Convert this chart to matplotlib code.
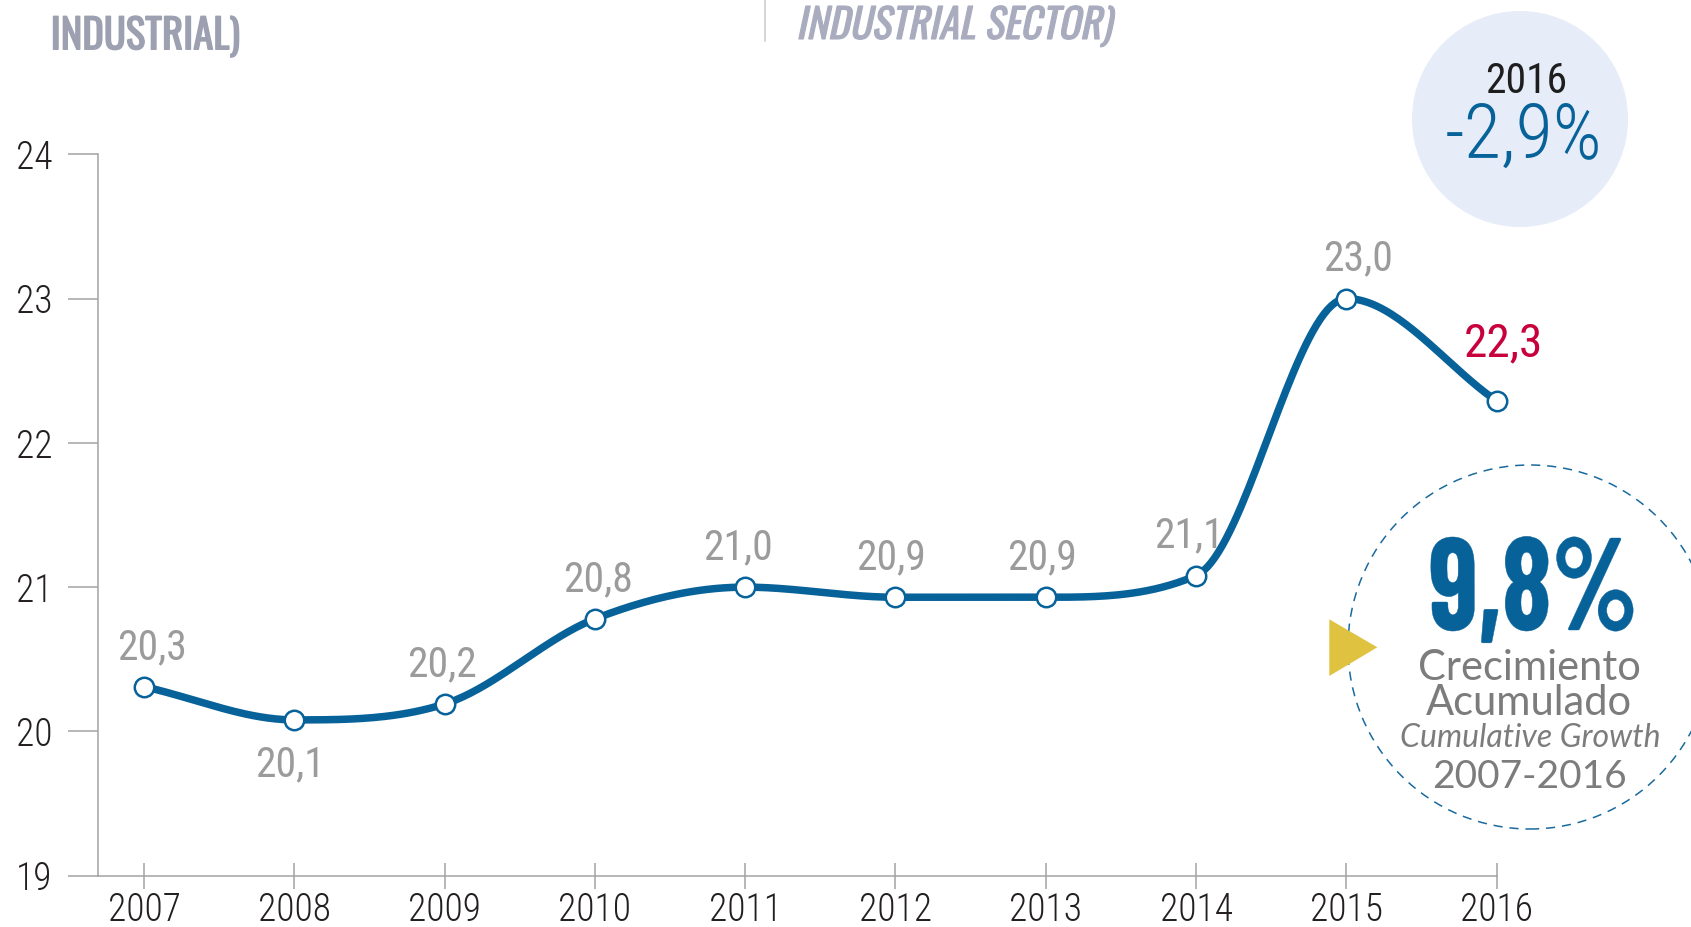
import numpy as np
import matplotlib
matplotlib.use("Agg")
import matplotlib.pyplot as plt
import matplotlib.patheffects as pe
from matplotlib.font_manager import FontProperties
from matplotlib.lines import Line2D
from matplotlib.patches import Circle, Polygon, PathPatch
from matplotlib.textpath import TextPath
from matplotlib.transforms import Affine2D, IdentityTransform

# data
years = [2007, 2008, 2009, 2010, 2011, 2012, 2013, 2014, 2015, 2016]
values = [20.31, 20.08, 20.19, 20.78, 21.00, 20.93, 20.93, 21.08, 23.00, 22.29]
value_labels = ["20,3", "20,1", "20,2", "20,8", "21,0", "20,9", "20,9", "21,1", "23,0", "22,3"]
y_ticks = [19, 20, 21, 22, 23, 24]

title_left = "INDUSTRIAL)"
title_right = "INDUSTRIAL SECTOR)"
badge_year = "2016"
badge_change = "-2,9%"
cumulative_value = "9,8%"
cumulative_lines = ["Crecimiento", "Acumulado"]
cumulative_en = "Cumulative Growth"
cumulative_period = "2007-2016"

# style
W, H = 1691, 927
BLUE = "#07629A"
RED = "#C8003C"
LABEL_GRAY = "#9B9B9B"
AXIS_GRAY = "#A3A3A3"
DARK = "#231F20"
TITLE_GRAY = "#9CA0B0"
TEXT_GRAY = "#7C7C7C"
COND = ["Roboto Condensed", "DejaVu Sans"]
BIG = ["Barlow Condensed", "Roboto Condensed", "DejaVu Sans"]
HUMAN = ["Lato", "DejaVu Sans"]

# label offsets in pixels (dx) for each point
label_dx = [8, -4, -3, 3, -7, -4, -4, -7, 12, 7]

plt.rcParams["font.family"] = COND
plt.rcParams["font.weight"] = "light"


def smooth_curve(x, y, n=40):
    """Monotone cubic Hermite curve through the points (Fritsch-Carlson tangents)."""
    x = np.asarray(x, float)
    y = np.asarray(y, float)
    s = np.diff(y) / np.diff(x)
    m = np.gradient(y, x)
    for i in range(1, len(x) - 1):
        if s[i - 1] * s[i] <= 0:
            m[i] = 0.0
        else:
            lim = 3 * min(abs(s[i - 1]), abs(s[i]))
            m[i] = np.sign(m[i]) * min(abs(m[i]), lim)
    t = np.linspace(0, 1, n, endpoint=False)
    h00 = 2 * t**3 - 3 * t**2 + 1
    h10 = t**3 - 2 * t**2 + t
    h01 = -2 * t**3 + 3 * t**2
    h11 = t**3 - t**2
    xs, ys = [], []
    for i in range(len(x) - 1):
        h = x[i + 1] - x[i]
        xs.append(x[i] + t * h)
        ys.append(h00 * y[i] + h10 * h * m[i] + h01 * y[i + 1] + h11 * h * m[i + 1])
    xs.append([x[-1]])
    ys.append([y[-1]])
    return np.concatenate(xs), np.concatenate(ys)


def fpos(x, y):
    """pixel (from top-left) -> figure fraction"""
    return x / W, 1 - y / H


def path_text(s, prop, cap_px, cx, baseline, color, squeeze=1.0, skew=0.0, anchor="center"):
    """Draw text as a path in pixel space, sized by cap height, optionally squeezed/skewed."""
    ratio = TextPath((0, 0), "I", size=100, prop=prop).get_extents().height / 100
    tp = TextPath((0, 0), s, size=cap_px / ratio, prop=prop)
    ext = tp.get_extents()
    dx = -(ext.x0 + ext.x1) / 2 * squeeze if anchor == "center" else -ext.x0 * squeeze
    tr = Affine2D().scale(squeeze, 1).skew_deg(skew, 0).translate(cx + dx, H - baseline)
    fig.add_artist(PathPatch(tp, transform=tr, facecolor=color, edgecolor=color, lw=0.3))


fig = plt.figure(figsize=(W / 100, H / 100), dpi=100)
ax = fig.add_axes([98.3 / W, 1 - 875.7 / H, (1496.7 - 98.3) / W, (875.7 - 154.3) / H])
ax.patch.set_visible(False)
ax.set_xlim(2006.696, 2016)
ax.set_ylim(19, 24)

sx, sy = smooth_curve(years, values)
ax.plot(sx, sy, color=BLUE, lw=5.4, solid_capstyle="round", zorder=3, clip_on=False)
ax.plot(years, values, "o", ms=14, mfc="white", mec=BLUE, mew=1.8, zorder=4, clip_on=False)

for i, (x, v, lab) in enumerate(zip(years, values, value_labels)):
    last = i == len(years) - 1
    if i == 1:
        dy = -41
    elif last:
        dy = 32
    else:
        dy = 20
    ax.annotate(lab, (x, v), xytext=(label_dx[i] * 0.72, dy), textcoords="offset points",
                ha="center", va="baseline", fontsize=34 if last else 30,
                color=RED if last else LABEL_GRAY, family=COND, fontweight="normal")

for side in ["top", "right"]:
    ax.spines[side].set_visible(False)
for side in ["left", "bottom"]:
    ax.spines[side].set_color(AXIS_GRAY)
    ax.spines[side].set_linewidth(1.1)

ax.set_xticks(years)
ax.set_yticks(y_ticks)
ax.set_yticklabels([str(v) for v in y_ticks])
ax.tick_params(axis="y", direction="out", length=21.6, width=1.1, color=AXIS_GRAY,
               pad=11.5, labelsize=27, labelcolor=DARK)
ax.tick_params(axis="x", direction="inout", length=18.7, width=1.1, color=AXIS_GRAY,
               pad=2, labelsize=27, labelcolor=DARK)

# badge top right
fig.add_artist(Circle((1520, H - 119), 108, transform=IdentityTransform(),
                      facecolor="#E6ECF8", edgecolor="none", zorder=-1))
fig.text(*fpos(1526, 93.3), badge_year, ha="center", va="baseline", fontsize=30,
         family=COND, fontweight="normal", color="#1E1E1E")
fig.text(*fpos(1524, 158), badge_change, ha="center", va="baseline", fontsize=55,
         family=COND, fontweight="light", color=BLUE)

# cumulative growth circle
fig.add_artist(Circle((1530, H - 647), 182, transform=IdentityTransform(), fill=False,
                      edgecolor="#1A6A9E", lw=1.1, linestyle=(0, (6, 4.5)), zorder=1))
fig.add_artist(Polygon([(1329.3, H - 619.3), (1329.3, H - 676), (1377.3, H - 647.3)],
                       closed=True, transform=IdentityTransform(), facecolor="#E0C241",
                       edgecolor="none", zorder=2))
path_text(cumulative_value, FontProperties(family=BIG, weight="bold"), 92, 1532, 630,
          BLUE, squeeze=0.86)
fig.text(*fpos(1529, 680), cumulative_lines[0], ha="center", va="baseline", fontsize=30,
         family=HUMAN, fontweight="normal", color=TEXT_GRAY)
fig.text(*fpos(1529, 715), cumulative_lines[1], ha="center", va="baseline", fontsize=30,
         family=HUMAN, fontweight="normal", color=TEXT_GRAY)
fig.text(*fpos(1530, 746.7), cumulative_en, ha="center", va="baseline", fontsize=23,
         family=HUMAN, fontweight="normal", style="italic", color=TEXT_GRAY)
fig.text(*fpos(1529, 788), cumulative_period, ha="center", va="baseline", fontsize=28,
         family=HUMAN, fontweight="normal", color=TEXT_GRAY)

# cut-off titles at the top
title_prop = FontProperties(family=["Oswald", "DejaVu Sans"])
cap_ratio = TextPath((0, 0), "I", size=100, prop=title_prop).get_extents().height / 100
title_px = 33 / cap_ratio
fig.text(*fpos(50.7, 49.3), title_left, ha="left", va="baseline", fontsize=title_px * 0.72,
         fontproperties=title_prop, color=TITLE_GRAY,
         path_effects=[pe.withStroke(linewidth=1.0, foreground=TITLE_GRAY)])
tp = TextPath((0, 0), title_right, size=title_px, prop=title_prop)
fig.add_artist(PathPatch(tp, transform=Affine2D().skew_deg(12, 0).translate(796, H - 39),
                         facecolor="#A9ACBE", edgecolor="#A9ACBE", lw=0.8))
fig.add_artist(Line2D([765, 765], [H, H - 41], transform=IdentityTransform(),
                      color="#CCCCCC", lw=1.1))

fig.savefig("out.png", dpi=100)
